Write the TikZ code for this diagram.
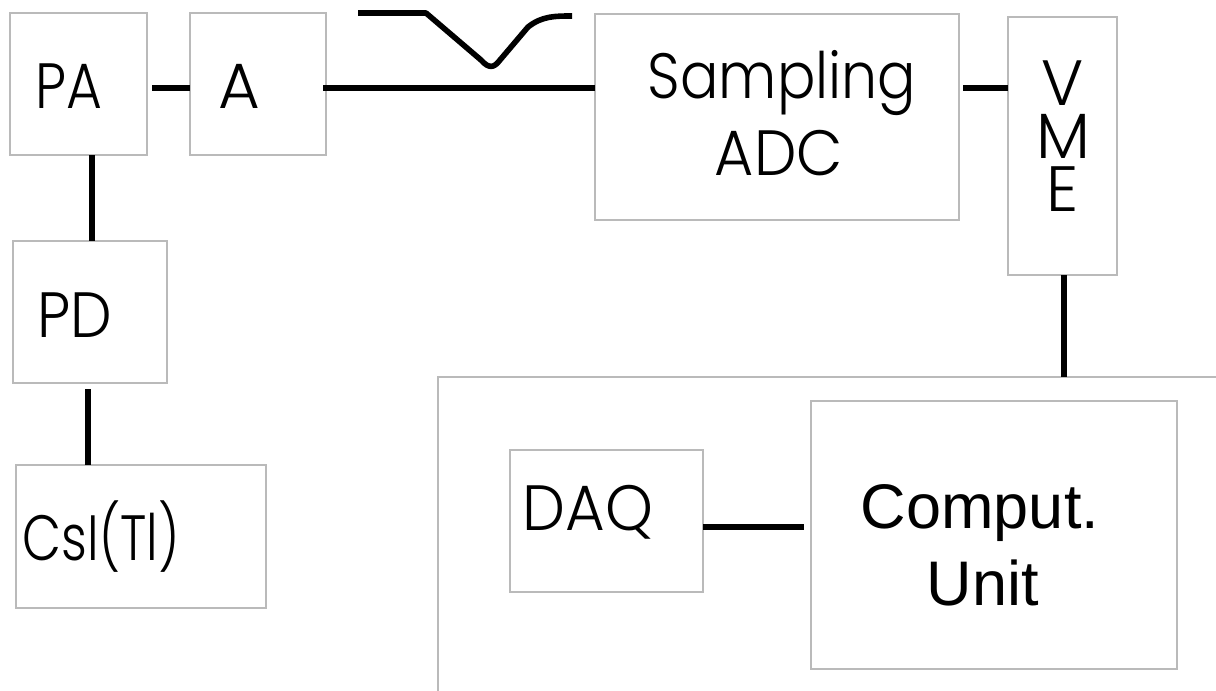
\documentclass[tikz,border=0pt]{standalone}
\usepackage{fontspec}
\IfFontExistsTF{Poppins Light}{\newfontfamily\gfont{Poppins Light}}{\newfontfamily\gfont{Poppins}}
\newfontfamily\afont{Liberation Sans}
\newcommand\hsq[2]{\scalebox{#1}[1]{#2}}
\begin{document}
\begin{tikzpicture}[x=1pt,y=-1pt,
  box/.style={draw=black!27, line width=1.6pt, rectangle, inner sep=0pt, outer sep=0pt, anchor=north west},
  wire/.style={line width=5.6pt, black},
  lbl/.style={inner sep=0pt, anchor=base, font=\gfont\fontsize{64}{64}\selectfont},
  albl/.style={inner sep=0pt, anchor=base, font=\afont\fontsize{63}{63}\selectfont}]
\useasboundingbox (0,0) rectangle (1216,691);
% boxes
\node[box, minimum width=137pt, minimum height=142pt] (pa)  at (10,13) {};
\node[box, minimum width=136pt, minimum height=142pt] (a)   at (190,13) {};
\node[box, minimum width=364pt, minimum height=206pt] (adc) at (595,14) {};
\node[box, minimum width=109pt, minimum height=258pt] (vme) at (1008,17) {};
\node[box, minimum width=154pt, minimum height=142pt] (pd)  at (13,241) {};
\node[box, minimum width=250pt, minimum height=143pt] (csi) at (16,465) {};
\node[box, minimum width=800pt, minimum height=340pt] (sys) at (438,377) {};
\node[box, minimum width=193pt, minimum height=142pt] (daq) at (510,450) {};
\node[box, minimum width=366pt, minimum height=268pt] (cu)  at (811,401) {};
% labels
\node[lbl] (tpa)  at (69,108)   {\hsq{0.86}{PA}};
\node[lbl] (ta)   at (239,108)  {A};
\node[lbl] (ts1)  at (782,98)   {\hsq{0.89}{Sampling}};
\node[lbl] (ts2)  at (779,175)  {\hsq{0.94}{ADC}};
\node[lbl, anchor=north, align=center, font=\gfont\fontsize{64}{53}\selectfont] (tvme) at (1063,61) {V\\M\\E};
\node[lbl] (tpd)  at (75,337)   {\hsq{0.92}{PD}};
\node[lbl] (tcsi) at (101,560)  {\hsq{0.79}{CsI(Tl)}};
\node[lbl] (tdaq) at (588,530)  {\hsq{0.95}{DAQ}};
\node[albl] (tcu1) at (980,528) {Comput.};
\node[albl] (tcu2) at (983,605) {Unit};
% wires
\coordinate (yrow) at (0,88);
\coordinate (xpa) at (92,0);
\coordinate (xpd) at (88,0);
\coordinate (xvme) at (1064,0);
\coordinate (ydaq) at (0,527);
\draw[wire, shorten <=5pt] (pa.east |- yrow) -- (a.west |- yrow);
\draw[wire, shorten <=-3pt] (a.east |- yrow) -- (adc.west |- yrow);
\draw[wire, shorten <=4pt] (adc.east |- yrow) -- (vme.west |- yrow);
\draw[wire] (vme.south -| xvme) -- (sys.north -| xvme);
\draw[wire] (pa.south -| xpa) -- (pd.north -| xpa);
\draw[wire, shorten <=6pt] (pd.south -| xpd) -- (csi.north -| xpd);
\draw[wire, shorten >=7pt] (daq.east |- ydaq) -- (cu.west |- ydaq);
% pulse shape
\draw[line width=5.6pt, line join=round]
  (358,13) -- (426,13) -- (481,60) .. controls (489,69) and (494,68) .. (500,60)
  -- (528,27) .. controls (542,16) and (555,16) .. (572,16);
\end{tikzpicture}
\end{document}
